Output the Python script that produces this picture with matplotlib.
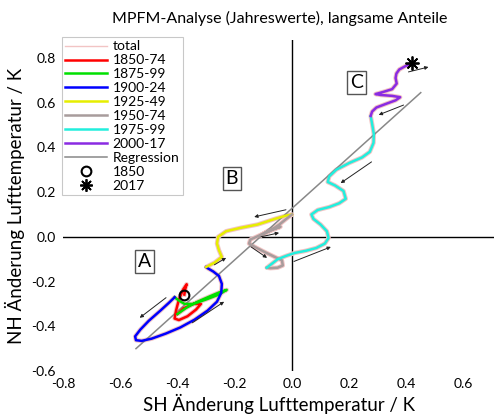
import numpy as np
import matplotlib
matplotlib.use("Agg")
import matplotlib.pyplot as plt
from matplotlib.lines import Line2D

plt.rcParams["font.family"] = ["Lato", "DejaVu Sans"]
plt.rcParams["axes.unicode_minus"] = False

# smoothed trajectories (SH anomaly, NH anomaly) per period
red_x = [-0.376, -0.372, -0.368, -0.380, -0.395, -0.405, -0.410, -0.395, -0.365, -0.335, -0.318, -0.345, -0.380, -0.400]
red_y = [-0.258, -0.230, -0.212, -0.235, -0.280, -0.330, -0.365, -0.372, -0.355, -0.325, -0.300, -0.300, -0.320, -0.345]

green_x = [-0.400, -0.370, -0.330, -0.285, -0.248, -0.228, -0.255, -0.300, -0.345, -0.375, -0.395, -0.410]
green_y = [-0.345, -0.318, -0.290, -0.265, -0.245, -0.237, -0.258, -0.280, -0.300, -0.300, -0.285, -0.270]

blue_x = [-0.410, -0.430, -0.460, -0.500, -0.530, -0.548, -0.545, -0.525, -0.490, -0.440, -0.390, -0.340,
          -0.295, -0.262, -0.247, -0.245, -0.255, -0.275, -0.295, -0.300]
blue_y = [-0.270, -0.295, -0.330, -0.375, -0.415, -0.445, -0.462, -0.465, -0.455, -0.432, -0.405, -0.370,
          -0.330, -0.290, -0.250, -0.210, -0.175, -0.155, -0.140, -0.135]

yellow_x = [-0.300, -0.270, -0.245, -0.255, -0.262, -0.258, -0.230, -0.180, -0.120, -0.060, -0.020, 0.000]
yellow_y = [-0.135, -0.115, -0.090, -0.060, -0.030, 0.000, 0.025, 0.040, 0.055, 0.080, 0.095, 0.100]

gray_x = [0.000, -0.020, -0.045, -0.080, -0.115, -0.080, -0.040, -0.090, -0.145, -0.150, -0.130, -0.100, -0.060, -0.035, -0.032, -0.050, -0.075, -0.088]
gray_y = [0.100, 0.080, 0.054, 0.025, 0.002, 0.030, 0.045, 0.020, -0.012, -0.030, -0.045, -0.065, -0.090, -0.105, -0.128, -0.138, -0.140, -0.138]

cyan_x = [-0.088, -0.070, -0.050, -0.020, 0.010, 0.050, 0.085, 0.115, 0.128, 0.122, 0.100, 0.075, 0.068, 0.090, 0.130,
          0.165, 0.188, 0.180, 0.150, 0.125, 0.130, 0.155, 0.200, 0.245, 0.272, 0.285, 0.286, 0.280, 0.275]
cyan_y = [-0.138, -0.120, -0.100, -0.085, -0.072, -0.062, -0.050, -0.030, -0.005, 0.025, 0.055, 0.080, 0.100, 0.120, 0.133,
          0.150, 0.170, 0.205, 0.230, 0.245, 0.270, 0.300, 0.330, 0.355, 0.380, 0.420, 0.460, 0.505, 0.540]

purple_x = [0.275, 0.280, 0.295, 0.330, 0.362, 0.378, 0.350, 0.310, 0.292, 0.320, 0.350, 0.366, 0.362, 0.365, 0.375, 0.395, 0.418]
purple_y = [0.540, 0.560, 0.578, 0.595, 0.610, 0.624, 0.630, 0.634, 0.638, 0.648, 0.660, 0.685, 0.710, 0.730, 0.748, 0.762, 0.775]

periods = ["1850-74", "1875-99", "1900-24", "1925-49", "1950-74", "1975-99", "2000-17"]
colors = ["#ff0000", "#00e000", "#0000ff", "#e6ee00", "#a89c9c", "#22eedd", "#8a2be2"]

# regression NH = a + b * SH
reg_slope, reg_icpt = 1.15, 0.127
reg_x = [-0.545, 0.450]

start_pt = (-0.376, -0.258)   # 1850
end_pt = (0.418, 0.775)       # 2017

# direction arrows (tail -> head)
arrows = [
    ((-0.440, -0.272), (-0.532, -0.362)),
    ((-0.348, -0.384), (-0.237, -0.290)),
    ((-0.271, -0.125), (-0.230, -0.094)),
    ((-0.021, 0.121), (-0.132, 0.089)),
    ((-0.108, 0.000), (-0.045, 0.018)),
    ((-0.143, -0.045), (-0.087, -0.094)),
    ((0.007, -0.110), (0.136, -0.045)),
    ((0.278, 0.335), (0.170, 0.240)),
    ((0.390, 0.589), (0.303, 0.545)),
    ((0.407, 0.737), (0.477, 0.759)),
]

regions = [("A", -0.515, -0.11), ("B", -0.21, 0.26), ("C", 0.225, 0.69)]

fig = plt.figure(figsize=(4.96, 4.16), dpi=100)
ax = fig.add_axes([0.127, 0.108, 0.869, 0.796])

xs = [red_x, green_x, blue_x, yellow_x, gray_x, cyan_x, purple_x]
ys = [red_y, green_y, blue_y, yellow_y, gray_y, cyan_y, purple_y]

tot_x = np.concatenate(xs)
tot_y = np.concatenate(ys)
ax.plot(tot_x, tot_y, color="#f2c4c4", lw=3.2, zorder=1)

ax.axhline(0, color="black", lw=1.0, zorder=0)
ax.axvline(0, color="black", lw=1.0, zorder=0)

rx = np.array(reg_x)
ax.plot(rx, reg_icpt + reg_slope * rx, color="#888888", lw=1.1, zorder=2)

for x, y, c in zip(xs, ys, colors):
    ax.plot(x, y, color=c, lw=1.8, zorder=3)

for tail, head in arrows:
    ax.annotate("", xy=head, xytext=tail,
                arrowprops=dict(arrowstyle="-|>", color="#222222", lw=0.7,
                                mutation_scale=5, shrinkA=0, shrinkB=0), zorder=4)

ax.plot(*start_pt, marker="o", ms=7, mfc="none", mec="black", mew=1.5, zorder=5)
ax.plot(*end_pt, marker=(8, 2, 0), ms=10, color="black", mew=1.3, zorder=5)

for lab, x, y in regions:
    ax.text(x, y, lab, fontsize=14, ha="center", va="center", zorder=6,
            bbox=dict(boxstyle="square,pad=0.15", fc="white", ec="#555555", lw=1.0))

ax.set_xlim(-0.8, 0.706)
ax.set_ylim(-0.6, 0.88)
ax.set_xticks([-0.8, -0.6, -0.4, -0.2, 0.0, 0.2, 0.4, 0.6])
ax.set_yticks([-0.6, -0.4, -0.2, 0.0, 0.2, 0.4, 0.6, 0.8])
ax.xaxis.set_major_formatter(plt.FormatStrFormatter("%.1f"))
ax.yaxis.set_major_formatter(plt.FormatStrFormatter("%.1f"))
ax.tick_params(length=0, labelsize=10, pad=5)
for s in ax.spines.values():
    s.set_visible(False)

ax.set_xlabel("SH Änderung Lufttemperatur / K", fontsize=13.5, labelpad=3)
ax.set_ylabel("NH Änderung Lufttemperatur / K", fontsize=13.5, labelpad=5)
fig.text(0.563, 0.955, "MPFM-Analyse (Jahreswerte), langsame Anteile", fontsize=11.5, ha="center", va="center")

handles = [Line2D([], [], color="#f2c4c4", lw=1)]
handles += [Line2D([], [], color=c, lw=1.8) for c in colors]
handles += [Line2D([], [], color="#888888", lw=1.1),
            Line2D([], [], ls="none", marker="o", ms=7, mfc="none", mec="black", mew=1.5),
            Line2D([], [], ls="none", marker=(8, 2, 0), ms=9, color="black", mew=1.3)]
labels = ["total"] + periods + ["Regression", "1850", "2017"]
leg = fig.legend(handles, labels, loc="upper left", bbox_to_anchor=(62 / 496, 1 - 37 / 416),
                 fontsize=10, frameon=True, fancybox=False, edgecolor="#bbbbbb",
                 labelspacing=0.14, handlelength=3.0, handletextpad=0.4, borderpad=0.25,
                 borderaxespad=0)
leg.get_frame().set_linewidth(0.8)

fig.savefig("out.png", dpi=100)
